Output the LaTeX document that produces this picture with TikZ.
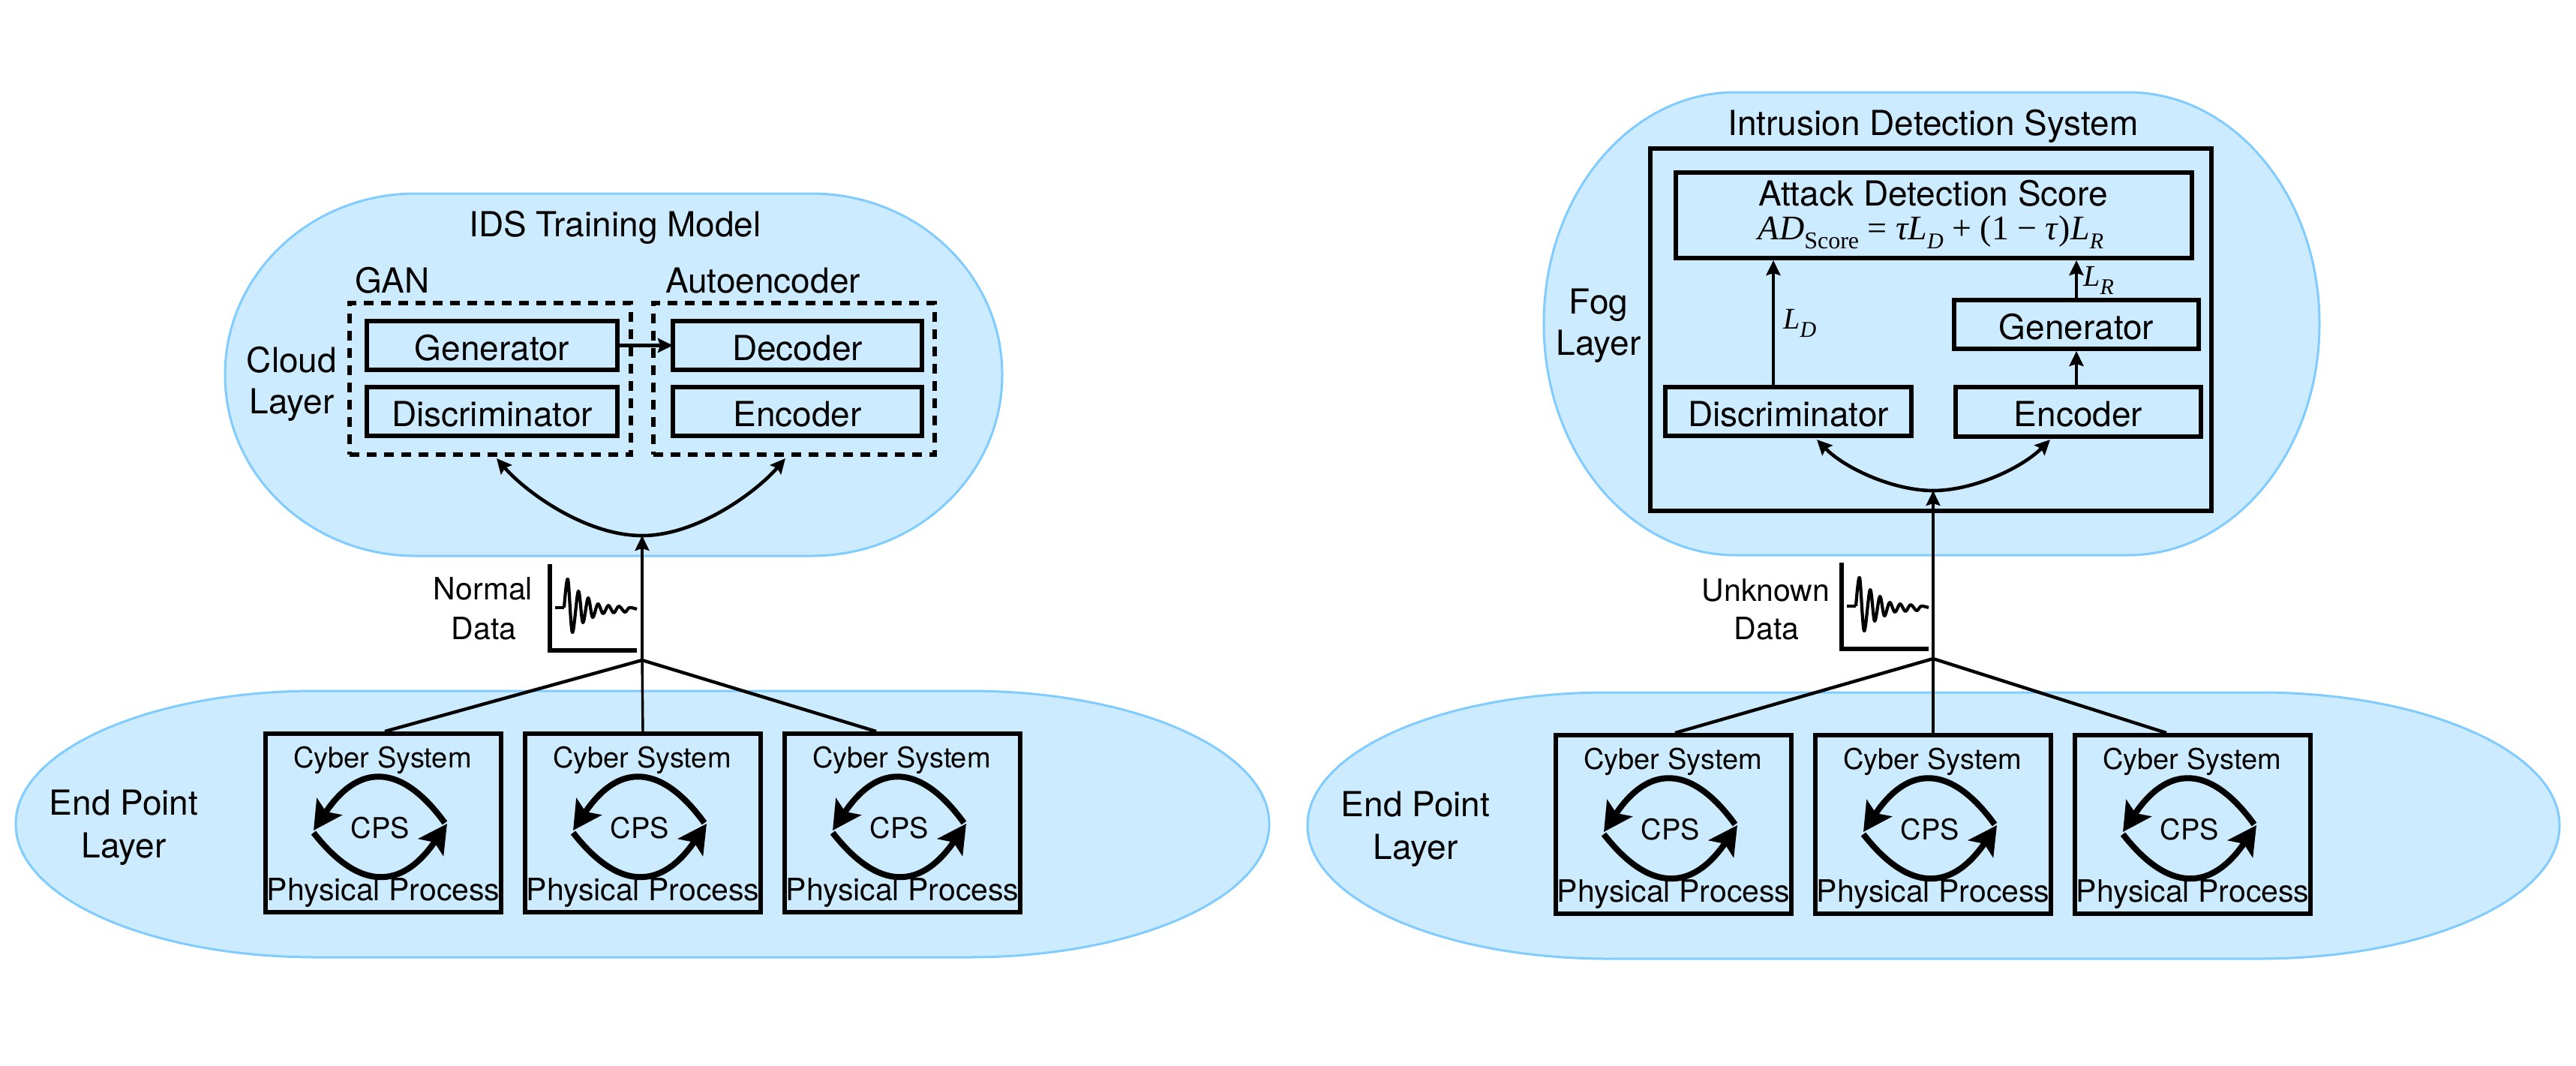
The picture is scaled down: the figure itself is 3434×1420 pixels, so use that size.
\documentclass[tikz,border=0pt]{standalone}
\usepackage{fontspec}
\setmainfont{TeX Gyre Heros}
\newfontfamily\serfont{Liberation Serif}
\usetikzlibrary{arrows.meta}
\definecolor{layerfill}{HTML}{CCEBFF}
\definecolor{layeredge}{HTML}{80CCFF}
\tikzset{
  layer/.style={fill=layerfill,draw=layeredge,line width=1.5pt},
  box/.style={draw=black,line width=3.2pt,rectangle,inner sep=0pt,outer sep=0pt,text height=19.5pt,text depth=0pt,font=\fontsize{23}{26}\selectfont},
  dashbox/.style={draw=black,line width=3pt,rectangle,inner sep=0pt,outer sep=0pt,dash pattern=on 6.5pt off 5pt},
  big/.style={inner sep=0pt,anchor=base,font=\fontsize{23}{26}\selectfont},
  small/.style={inner sep=0pt,anchor=base,font=\fontsize{20.5}{24}\selectfont},
  tiny/.style={inner sep=0pt,anchor=base,font=\fontsize{19}{22}\selectfont},
  conn/.style={draw=black,line width=2.2pt},
  vconn/.style={draw=black,line width=1.7pt},
  tipped/.style={-{Stealth[length=10pt,width=9.5pt,inset=1.5pt]}},
  twotip/.style={line width=2.3pt},
  loopline/.style={draw=black,line width=4pt,line cap=butt,-{Stealth[length=19pt,width=20pt,inset=4pt]}},
  axisline/.style={draw=black,line width=2.6pt,line join=miter},
  waveline/.style={draw=black,line width=2.1pt,line join=round},
}
\newcommand{\bx}[7][]{\node[box,#1,minimum width={(#5-#3-6)*0.5pt},minimum height={(#6-#4-6)*0.5pt}] (#2) at ({(#3+#5)/2},{(#4+#6)/2}) {#7};}
\newcommand{\dbx}[5]{\node[dashbox,minimum width={(#4-#2-5)*0.5pt},minimum height={(#5-#3-5)*0.5pt}] (#1) at ({(#2+#4)/2},{(#3+#5)/2}) {};}
\newcommand{\pill}[6]{\path[layer] (#1,{#2+#6}) arc[start angle=180,end angle=270,x radius=#5,y radius=#6] -- ({#3-#5},#2) arc[start angle=270,end angle=360,x radius=#5,y radius=#6] -- (#3,{#4-#6}) arc[start angle=0,end angle=90,x radius=#5,y radius=#6] -- ({#1+#5},#4) arc[start angle=90,end angle=180,x radius=#5,y radius=#6] -- cycle;}
\newcommand{\cps}[3]{\begin{scope}[shift={(#2,#3)}]
  \bx{#1}{351}{975}{671}{1219}{}
  \node[tiny] (#1cy) at (510,1023) {Cyber System};
  \node[tiny] (#1ce) at (507,1117) {CPS};
  \node[small] (#1ph) at (511,1200) {Physical Process};
  \coordinate (#1a) at (593,1097);
  \coordinate (#1b) at (418,1107);
  \coordinate (#1e) at (418,1110);
  \coordinate (#1f) at (596,1098);
  \draw[loopline] (#1a) .. controls (535,1017) and (478,1017) .. (#1b);
  \draw[loopline] (#1e) .. controls (478,1187) and (535,1187) .. (#1f);
\end{scope}}
\newcommand{\wave}[2]{\begin{scope}[shift={(#1,#2)}]
  \draw[axisline] (733,752) -- (733,867) -- (849,867);
  \draw[waveline] (740,810) -- (752,810);
  \draw[waveline] plot[smooth,tension=0.55] coordinates {(752,810) (757,772) (763,843) (771,788) (777,830) (784,797) (790,823) (797,805) (804,818) (811,807) (818,817) (825,808) (833,816) (839,810) (849,812)};
\end{scope}}
\newcommand{\sbs}[1]{\raisebox{-0.28em}{\fontsize{16}{18}\selectfont #1}}
\newcommand{\lsb}[1]{\raisebox{-0.28em}{\fontsize{15}{17}\selectfont #1}}
\begin{document}
\begin{tikzpicture}[x=0.5pt,y=-0.5pt]
\useasboundingbox (0,0) rectangle (3434,1420);
% layers
\pill{300}{258}{1336}{741}{254}{241}
\pill{21}{921}{1692}{1276}{400}{177}
\pill{2058}{123}{3092}{740}{255}{308}
\pill{1743}{923}{3412}{1278}{400}{177}
% left cloud
\node[big] (idst) at (820,315) {IDS Training Model};
\node[big] (gant) at (523,390) {GAN};
\node[big] (aet) at (1017,390) {Autoencoder};
\dbx{gan}{463}{401}{843}{608}
\dbx{ae}{868}{401}{1248}{608}
\bx{lgen}{486}{425}{826}{496}{Generator}
\bx{ldis}{486}{513}{826}{584}{Discriminator}
\bx{ldec}{894}{425}{1232}{496}{Decoder}
\bx{lenc}{894}{513}{1232}{584}{Encoder}
\node[big] (cl1) at (389,496) {Cloud};
\node[big] (cl2) at (389,551) {Layer};
\draw[conn,tipped] (lgen.east) -- (ldec.west);
% right cloud
\node[big] (idt) at (2577,180) {Intrusion Detection System};
\bx{ids}{2197}{195}{2951}{684}{}
\bx{att}{2231}{227}{2925}{347}{}
\node[big] (attt) at (2577,274) {Attack Detection Score};
\node[inner sep=0pt,anchor=base,font=\serfont\fontsize{23}{26}\selectfont] (form) at (2574,319) {\textit{AD}\sbs{Score} = \textit{τL}\lsb{\textit{D}} + (1 − \textit{τ})\textit{L}\lsb{\textit{R}}};
\bx{rgen}{2602}{397}{2934}{468}{Generator}
\bx{rdis}{2217}{513}{2551}{584}{Discriminator}
\bx{renc}{2604}{513}{2937}{585}{Encoder}
\node[big] (fg1) at (2131,418) {Fog};
\node[big] (fg2) at (2131,473) {Layer};
\coordinate (ldt) at (2364,513);
\coordinate (ldh) at (2364,347);
\coordinate (lrt) at (2768,397);
\coordinate (lrh) at (2768,347);
\coordinate (gnt) at (2768,513);
\coordinate (gnh) at (2768,468);
\draw[conn,tipped] (ldt) -- (ldh);
\draw[conn,tipped] (lrt) -- (lrh);
\draw[conn,tipped] (gnt) -- (gnh);
\node[inner sep=0pt,anchor=base west,font=\serfont\fontsize{20}{24}\selectfont] (ldl) at (2377,438) {\textit{L}\lsb{\textit{D}}};
\node[inner sep=0pt,anchor=base west,font=\serfont\fontsize{20}{24}\selectfont] (lrl) at (2777,381) {\textit{L}\lsb{\textit{R}}};
% end point layers
\cps{la}{0}{0}
\cps{lb}{346}{0}
\cps{lc}{692}{0}
\cps{ra}{1720}{2}
\cps{rb}{2066}{2}
\cps{rc}{2412}{2}
\node[big] (ep1) at (165,1086) {End Point};
\node[big] (ep2) at (165,1143) {Layer};
\node[big] (ep3) at (1887,1088) {End Point};
\node[big] (ep4) at (1887,1145) {Layer};
% data
\wave{0}{0}
\wave{1722}{-2}
\node[small] (nd1) at (644,799) {Normal};
\node[small] (nd2) at (645,852) {Data};
\node[small] (ud1) at (2354,801) {Unknown};
\node[small] (ud2) at (2355,852) {Data};
% connectors left
\coordinate (jl) at (856,880);
\coordinate (cl) at (856,714);
\coordinate (lt1) at (513,975);
\coordinate (lt3) at (1168,975);
\coordinate (ah1) at (662,611);
\coordinate (ah2) at (1047,611);
\draw[conn] (lt1) -- (jl) -- (lt3);
\draw[vconn] (lb.north) -- (jl);
\draw[vconn,tipped] (jl) -- (cl);
\draw[twotip,tipped] (cl) .. controls (780,714) and (700,655) .. (ah1);
\draw[twotip,tipped] (cl) .. controls (930,714) and (1009,655) .. (ah2);
% connectors right
\coordinate (jr) at (2577,878);
\coordinate (cr) at (2577,654);
\coordinate (rt1) at (2233,977);
\coordinate (rt3) at (2888,977);
\coordinate (bh1) at (2422,586);
\coordinate (bh2) at (2733,586);
\draw[conn] (rt1) -- (jr) -- (rt3);
\draw[vconn] (rb.north) -- (jr);
\draw[vconn,tipped] (jr) -- (cr);
\draw[twotip,tipped] (cr) .. controls (2525,654) and (2460,625) .. (bh1);
\draw[twotip,tipped] (cr) .. controls (2629,654) and (2694,625) .. (bh2);
\end{tikzpicture}
\end{document}
